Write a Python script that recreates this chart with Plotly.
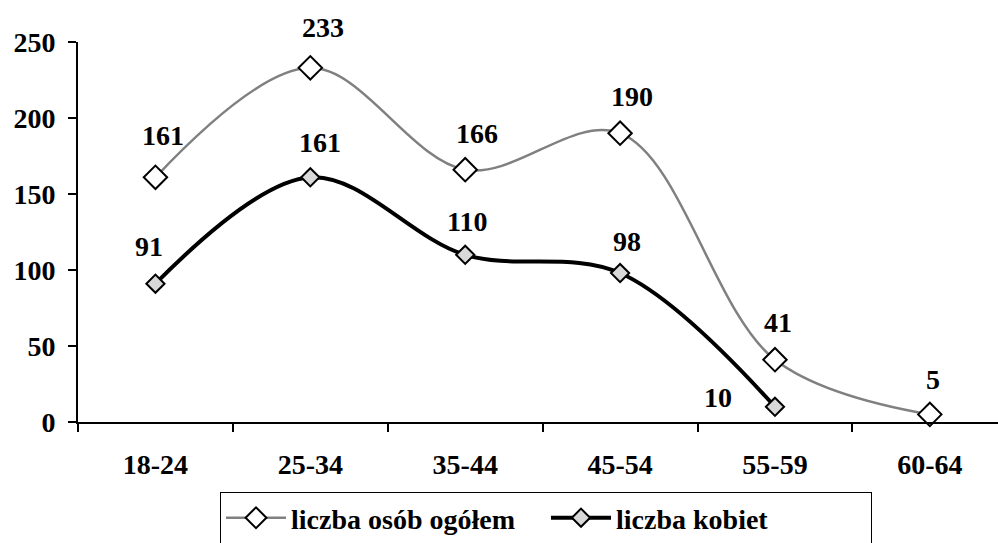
import plotly.graph_objects as go

categories = ["18-24", "25-34", "35-44", "45-54", "55-59", "60-64"]
ogolem = [161, 233, 166, 190, 41, 5]
kobiety = [91, 161, 110, 98, 10]
y_ticks = [0, 50, 100, 150, 200, 250]
name_ogolem = "liczba osób ogółem"
name_kobiety = "liczba kobiet"

# label offsets (px) — styling only
off_ogolem = [(8, 42), (13, 40), (12, 36), (12, 37), (3, 37), (3, 35)]
off_kobiety = [(-6, 37), (10, 35), (2, 33), (7, 32), (-57, 9)]

FONT = "Liberation Serif"
fig = go.Figure()

fig.add_trace(go.Scatter(
    x=categories, y=ogolem, name=name_ogolem, mode="lines+markers",
    line=dict(color="#808080", width=2.5, shape="spline"),
    marker=dict(symbol="diamond", size=18, color="white",
                line=dict(color="black", width=2)),
    cliponaxis=False,
))
fig.add_trace(go.Scatter(
    x=categories[:len(kobiety)], y=kobiety, name=name_kobiety, mode="lines+markers",
    line=dict(color="black", width=4, shape="spline"),
    marker=dict(symbol="diamond", size=14, color="#d8d8d8",
                line=dict(color="black", width=2)),
    cliponaxis=False,
))

for cat, val, (dx, dy) in zip(categories, ogolem, off_ogolem):
    fig.add_annotation(x=cat, y=val, text=f"<b>{val}</b>", showarrow=False,
                       xshift=dx, yshift=dy, font=dict(family=FONT, size=28, color="black"))
for cat, val, (dx, dy) in zip(categories, kobiety, off_kobiety):
    fig.add_annotation(x=cat, y=val, text=f"<b>{val}</b>", showarrow=False,
                       xshift=dx, yshift=dy, font=dict(family=FONT, size=28, color="black"))

fig.update_layout(
    width=998, height=543,
    margin=dict(l=78, r=0, t=42, b=121, autoexpand=False),
    paper_bgcolor="white", plot_bgcolor="white",
    font=dict(family=FONT, size=28, color="black", weight="bold"),
    showlegend=True,
    legend=dict(
        orientation="h", x=(220 - 78) / 920, xanchor="left",
        y=(422 - 492) / 380, yanchor="top",
        bordercolor="black", borderwidth=1, bgcolor="white",
        itemwidth=60, entrywidth=250,
        font=dict(family=FONT, size=28, color="black", weight="bold"),
    ),
    xaxis=dict(
        type="category", range=[-0.5, 5.44],
        showline=True, linecolor="black", linewidth=2,
        ticks="outside", ticklen=8, tickwidth=2, tickcolor="black",
        tickson="boundaries", showgrid=False, zeroline=False,
        ticklabelstandoff=16,
        tickfont=dict(family=FONT, size=28, color="black", weight="bold"),
    ),
    yaxis=dict(
        range=[0, 250], tickvals=y_ticks,
        showline=True, linecolor="black", linewidth=2,
        ticks="outside", ticklen=8, tickwidth=2, tickcolor="black",
        showgrid=False, zeroline=False,
        ticklabelstandoff=7,
        tickfont=dict(family=FONT, size=28, color="black", weight="bold"),
    ),
)

fig.write_html("out.html", config={"displayModeBar": False},
               post_script="document.body.style.margin='0';document.body.style.overflow='hidden';")
